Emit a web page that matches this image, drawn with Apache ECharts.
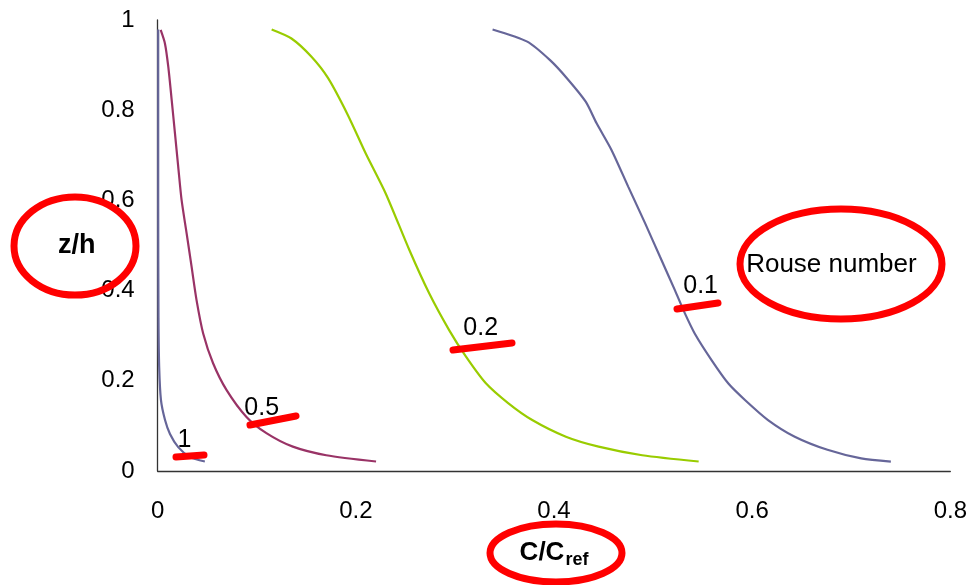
<!DOCTYPE html>
<html>
<head>
<meta charset="utf-8">
<script src="https://cdn.jsdelivr.net/npm/echarts@6/dist/echarts.min.js"></script>
<style>
html,body{margin:0;padding:0;background:#fff;}
#main{width:970px;height:585px;}
</style>
</head>
<body>
<div id="main"></div>
<script>
// Axis ticks
const xTicks = [0, 0.2, 0.4, 0.6, 0.8];
const yTicks = [0, 0.2, 0.4, 0.6, 0.8, 1];

// Rouse-number curves: [C/Cref, z/h]
const rouse01 = [[0.338,0.979],[0.373,0.952],[0.396,0.911],[0.413,0.871],[0.432,0.819],[0.443,0.771],[0.458,0.712],[0.475,0.630],[0.492,0.549],[0.507,0.475],[0.522,0.401],[0.532,0.350],[0.542,0.305],[0.559,0.246],[0.576,0.194],[0.593,0.157],[0.616,0.113],[0.643,0.076],[0.676,0.047],[0.710,0.028],[0.740,0.021]];
const rouse02 = [[0.115,0.979],[0.135,0.959],[0.155,0.919],[0.172,0.871],[0.192,0.789],[0.210,0.704],[0.230,0.616],[0.254,0.490],[0.274,0.394],[0.294,0.313],[0.311,0.254],[0.331,0.195],[0.354,0.150],[0.378,0.113],[0.412,0.076],[0.445,0.054],[0.489,0.035],[0.546,0.021]];
const rouse05 = [[0.003,0.978],[0.0073,0.948],[0.0107,0.896],[0.0141,0.823],[0.0174,0.749],[0.0207,0.675],[0.0241,0.601],[0.0292,0.527],[0.0342,0.453],[0.0392,0.379],[0.0459,0.305],[0.0559,0.239],[0.0694,0.180],[0.0896,0.120],[0.1097,0.084],[0.1364,0.054],[0.1701,0.035],[0.2204,0.021]];
const rouse1 = [[0.0005,0.979],[0.0005,0.60],[0.0008,0.34],[0.0015,0.23],[0.0033,0.157],[0.0074,0.113],[0.0124,0.082],[0.0207,0.053],[0.0325,0.031],[0.0476,0.021]];

// Curve labels: [x, y, text]
const curveLabels = [[0.548,0.410,'0.1'],[0.326,0.317,'0.2'],[0.105,0.140,'0.5'],[0.027,0.069,'1']];
const noteLabel = [[0.680,0.457,'Rouse number']];

const chart = echarts.init(document.getElementById('main'), null, {renderer:'canvas'});
const font = 'Liberation Sans, Arial, sans-serif';
function line(data, color){
  return {type:'line', data:data, symbol:'none', smooth:0.25, lineStyle:{color:color, width:2.2}, itemStyle:{color:color}, z:2, animation:false};
}
function labels(arr, size){
  return {type:'scatter', symbolSize:0, z:5, itemStyle:{opacity:1}, data:arr.map(d=>({value:[d[0],d[1]], name:d[2]})),
     label:{show:true, position:'inside', formatter:p=>p.name, color:'#000', opacity:1, fontSize:size, fontFamily:font}, silent:true};
}
const red = '#ff0000';
const option = {
  animation:false,
  backgroundColor:'#ffffff',
  grid:{left:157.7, right:18, top:20, bottom:114, containLabel:false},
  xAxis:{
    type:'value', min:xTicks[0], max:xTicks[xTicks.length-1], interval:0.2,
    axisLine:{show:true, onZero:false, lineStyle:{color:'#333', width:1.3}},
    axisTick:{show:false}, splitLine:{show:false},
    axisLabel:{color:'#000', fontSize:24, fontFamily:font, margin:28},
    name:'{a|C/C}{b|ref}', nameLocation:'middle', nameGap:66,
    nameTextStyle:{rich:{a:{fontSize:26, fontWeight:'bold', fontFamily:font, color:'#000'}, b:{fontSize:18, fontWeight:'bold', fontFamily:font, color:'#000', padding:[14,0,0,1]}}}
  },
  yAxis:{
    type:'value', min:yTicks[0], max:yTicks[yTicks.length-1], interval:0.2,
    axisLine:{show:true, onZero:false, lineStyle:{color:'#333', width:1.3}},
    axisTick:{show:false}, splitLine:{show:false},
    axisLabel:{color:'#000', fontSize:24, fontFamily:font, margin:23},
    name:'z/h', nameLocation:'middle', nameGap:77, nameRotate:0,
    nameTextStyle:{fontSize:27, fontWeight:'bold', fontFamily:font, color:'#000', align:'center', verticalAlign:'middle', padding:[8,0,0,0]}
  },
  series:[
    line(rouse01,'#666699'),
    line(rouse02,'#99cc00'),
    line(rouse05,'#993366'),
    line(rouse1,'#666699'),
    labels(curveLabels, 25),
    labels(noteLabel, 26)
  ],
  graphic:[
    {type:'ellipse', shape:{cx:75, cy:246, rx:61, ry:49}, style:{fill:'none', stroke:red, lineWidth:7}, z:10},
    {type:'ellipse', shape:{cx:556, cy:553, rx:66, ry:29}, style:{fill:'none', stroke:red, lineWidth:7}, z:10},
    {type:'ellipse', shape:{cx:841, cy:264, rx:101, ry:55}, style:{fill:'none', stroke:red, lineWidth:7}, z:10},
    {type:'line', shape:{x1:176, y1:457, x2:204, y2:455}, style:{stroke:red, lineWidth:7, lineCap:'round'}, z:10},
    {type:'line', shape:{x1:250, y1:425, x2:296, y2:416}, style:{stroke:red, lineWidth:7, lineCap:'round'}, z:10},
    {type:'line', shape:{x1:453, y1:350, x2:512, y2:343}, style:{stroke:red, lineWidth:7, lineCap:'round'}, z:10},
    {type:'line', shape:{x1:677, y1:309, x2:718, y2:303}, style:{stroke:red, lineWidth:7, lineCap:'round'}, z:10}
  ]
};
chart.setOption(option);
</script>
</body>
</html>
